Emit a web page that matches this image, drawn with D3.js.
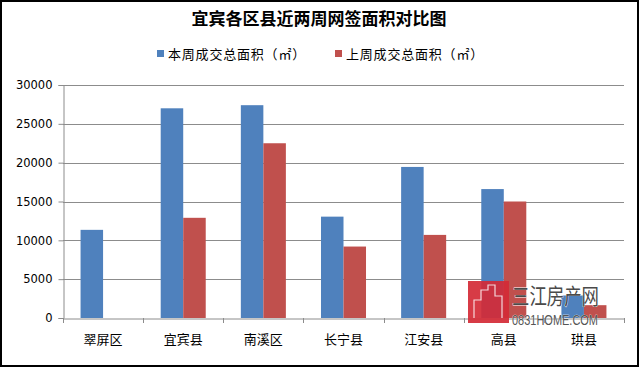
<!DOCTYPE html>
<html>
<head>
<meta charset="utf-8">
<script src="https://cdn.jsdelivr.net/npm/d3@7"></script>
<style>
html,body{margin:0;padding:0;background:#fff;}
svg{display:block;}
</style>
</head>
<body>
<svg id="chart" width="640" height="367"></svg>
<script>
const title = "宜宾各区县近两周网签面积对比图";
const categories = ["翠屏区","宜宾县","南溪区","长宁县","江安县","高县","珙县"];
const seriesNames = ["本周成交总面积（㎡）","上周成交总面积（㎡）"];
const thisWeek = [11350, 27000, 27400, 13050, 19450, 16600, 2900];
const lastWeek = [0, 12900, 22500, 9200, 10700, 15000, 1650];
const yTicks = [0, 5000, 10000, 15000, 20000, 25000, 30000];
const colors = ["#4F81BD", "#C0504D"];

const svg = d3.select("#chart");
const W = 640, H = 367;
const plot = {left: 63, right: 624, top: 85, bottom: 318};

svg.append("rect").attr("x",0).attr("y",0).attr("width",W).attr("height",H).attr("fill","#fff");

const x0 = d3.scaleBand().domain(categories).range([plot.left, plot.right]).padding(0);
const x1 = d3.scaleBand().domain(seriesNames).range([0, x0.bandwidth()]).paddingInner(0).paddingOuter(0.78);
const y = d3.scaleLinear().domain([0, 30000]).range([plot.bottom, plot.top]);

// gridlines
svg.append("g").selectAll("line").data(yTicks.filter(d=>d>0)).join("line")
  .attr("x1", plot.left).attr("x2", plot.right)
  .attr("y1", d=>Math.round(y(d))+0.5).attr("y2", d=>Math.round(y(d))+0.5)
  .attr("stroke","#8c8c8c").attr("stroke-width",1);

// bars
const data = categories.map((c,i)=>({cat:c, vals:[thisWeek[i], lastWeek[i]]}));
const g = svg.append("g");
data.forEach(d=>{
  d.vals.forEach((v,j)=>{
    if (!v) return;
    g.append("rect")
      .attr("x", x0(d.cat) + x1(seriesNames[j]))
      .attr("y", y(v))
      .attr("width", x1.bandwidth())
      .attr("height", y(0)-y(v))
      .attr("fill", colors[j]);
  });
});

// y axis
const yAxis = d3.axisLeft(y).tickValues(yTicks).tickSize(5).tickPadding(6).tickFormat(d3.format("d"));
const ya = svg.append("g").attr("transform",`translate(${plot.left+0.5},0)`).call(yAxis);
ya.select(".domain").attr("stroke","#8c8c8c");
ya.selectAll(".tick line").attr("stroke","#8c8c8c");
ya.selectAll(".tick text").attr("font-family","DejaVu Sans, Verdana, sans-serif").attr("font-size","11.5px").attr("fill","#000");

// x axis
const xAxis = d3.axisBottom(x0).tickSize(0).tickPadding(16);
const xa = svg.append("g").attr("transform",`translate(0,${plot.bottom+0.5})`).call(xAxis);
xa.select(".domain").attr("stroke","#8c8c8c");
xa.selectAll(".tick text").attr("font-family","'Noto Sans CJK SC', sans-serif").attr("font-size","13px").attr("fill","#000");
// category boundary ticks
const bounds = categories.map(c=>x0(c)).concat([plot.right]);
svg.append("g").selectAll("line").data(bounds).join("line")
  .attr("x1", d=>Math.round(d)+0.5).attr("x2", d=>Math.round(d)+0.5)
  .attr("y1", plot.bottom).attr("y2", plot.bottom+5)
  .attr("stroke","#8c8c8c");

// title
svg.append("text").attr("x", 319).attr("y", 25).attr("text-anchor","middle")
  .attr("font-family","'Noto Sans CJK SC', sans-serif").attr("font-weight","bold")
  .attr("font-size","17px").attr("fill","#000").text(title);

// legend
const legendX = [157, 335];
seriesNames.forEach((s,i)=>{
  svg.append("rect").attr("x", legendX[i]).attr("y", 50).attr("width",7).attr("height",7).attr("fill", colors[i]);
  svg.append("text").attr("x", legendX[i]+11).attr("y", 58.5).attr("letter-spacing","0.8px")
    .attr("font-family","'Noto Sans CJK SC', sans-serif").attr("font-size","13px").attr("fill","#000").text(s);
});

// watermark
const wm = svg.append("g");
wm.append("rect").attr("x",468).attr("y",281).attr("width",41).attr("height",42).attr("fill","#d42a36").attr("opacity",0.92);
wm.append("path").attr("d","M474,318 L474,300 L481,300 L481,290 L488,290 L488,285 L495,285 L495,296 L502,296 L502,318")
  .attr("fill","none").attr("stroke","#fff").attr("stroke-width",1.2).attr("opacity",0.8);
wm.append("text").attr("x",512).attr("y",304).attr("font-family","'Noto Sans CJK SC', sans-serif")
  .attr("font-size","22px").attr("fill","#4a4a4a").attr("stroke","#fff").attr("stroke-width",0.8)
  .attr("paint-order","stroke").attr("textLength",87).attr("lengthAdjust","spacingAndGlyphs").text("三江房产网");
wm.append("text").attr("x",512).attr("y",325).attr("font-family","'Liberation Sans Narrow', 'Liberation Sans', sans-serif")
  .attr("font-size","14px").attr("fill","#555").attr("stroke","#fff").attr("stroke-width",0.5).attr("paint-order","stroke")
  .attr("textLength",86).attr("lengthAdjust","spacingAndGlyphs").text("0831HOME.COM");

// outer border
svg.append("rect").attr("x",1).attr("y",1).attr("width",W-3).attr("height",H-2)
  .attr("fill","none").attr("stroke","#000").attr("stroke-width",2);
</script>
</body>
</html>
